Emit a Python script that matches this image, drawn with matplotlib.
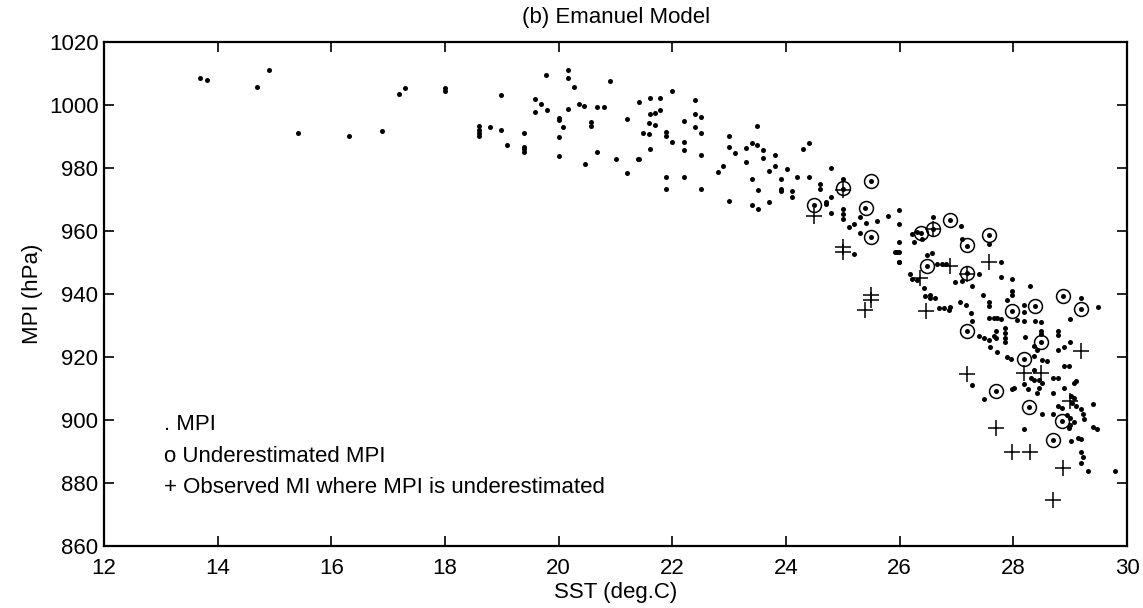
import matplotlib
matplotlib.use("Agg")
import matplotlib.pyplot as plt
import numpy as np

plt.rcParams['font.family'] = ['Liberation Sans', 'DejaVu Sans']

# MPI points (SST deg.C, MPI hPa)
sst_mpi = [
    13.69, 13.81, 14.70, 14.91, 15.42, 16.31, 16.90, 17.19, 17.30, 18.00, 18.00,
    18.60, 18.60, 18.60, 18.60, 18.80, 18.99, 18.99, 19.09, 19.39, 19.39, 19.39, 19.39,
    19.59, 19.59, 19.69, 19.78, 19.79, 20.00, 20.00, 20.00, 20.00, 20.08, 20.17, 20.17,
    20.17, 20.27, 20.36, 20.44, 20.47, 20.57, 20.57, 20.67, 20.67,
    20.80, 20.90, 21.20, 21.00, 21.20, 21.39,
    21.41, 21.60, 21.79, 22.00, 22.39, 22.39, 22.50, 21.60, 21.69, 21.79, 21.59, 21.69,
    21.49, 21.59, 21.89, 21.89, 22.00, 22.21, 22.21, 22.21, 22.39, 22.50, 22.50, 21.60,
    21.41, 21.89, 21.89, 22.21, 22.50, 23.00, 23.00, 23.11, 22.80, 22.90, 23.00, 23.49,
    23.40, 23.49, 23.59, 23.30, 23.30, 23.59, 23.80, 23.80, 23.70, 23.40, 23.50, 23.40,
    23.50, 23.70, 24.01, 23.91, 23.91, 23.91, 24.11, 24.11, 24.20, 24.41, 24.30, 24.41,
    24.79, 24.60, 24.60, 24.80, 24.70, 24.70, 24.80, 24.50, 25.00, 25.00, 25.00, 25.00,
    25.00, 25.20, 25.10, 25.30, 25.39, 25.41, 25.60, 25.79, 25.99, 25.99, 25.49, 25.30,
    25.50, 25.20, 25.99, 25.91, 25.99, 25.99, 25.95, 25.98,
    26.22, 26.31, 26.39, 26.25, 26.38, 26.59, 26.58, 26.88, 27.08, 27.19, 27.10, 27.58,
    27.58, 27.78, 27.78, 27.98, 28.29, 27.98, 28.88, 29.19, 26.48, 26.57, 26.48, 26.66,
    26.75, 26.81, 27.19, 27.39, 27.28, 26.98, 27.10, 26.18, 26.22, 26.30, 26.42, 26.54,
    26.45, 26.54, 26.63, 27.47,
    26.69, 26.78, 26.86, 26.89, 27.07, 27.16, 27.25, 27.28, 27.57, 27.57, 27.57, 27.66,
    27.72, 27.78, 27.89, 27.98, 27.98, 28.07, 28.19, 28.19, 28.19, 28.38, 28.39, 28.48,
    29.19, 29.49, 29.00, 27.18, 27.39, 27.48, 27.57, 27.66, 27.69, 27.69, 27.86, 27.86,
    27.86, 27.86, 27.59, 27.71, 27.89, 27.96, 28.20, 28.48, 28.36, 28.42, 28.48, 28.48,
    28.78, 28.78, 28.78, 28.89, 29.00, 28.19, 28.36, 28.51, 28.60, 28.36, 28.31, 28.36,
    28.45, 28.51, 28.45, 28.19, 28.25, 28.42, 28.01, 28.69, 28.78, 28.69, 28.89, 28.98,
    28.89, 29.07, 29.10, 29.01, 29.07, 29.04, 29.10, 27.28, 27.69, 27.48, 27.98, 28.28,
    28.50, 28.69, 28.79, 28.86, 28.85, 28.95, 29.00, 29.00, 29.07, 28.98, 29.19, 29.22,
    29.25, 29.41, 29.41, 29.48, 28.19, 28.69, 29.01, 29.13, 29.19, 29.19, 29.22, 29.19,
    29.31, 29.79,
]
mpi_mpi = [
    1008.7, 1007.9, 1005.6, 1011.2, 991.2, 990.1, 991.8, 1003.4, 1005.3, 1005.5, 1004.5,
    993.3, 992.2, 991.2, 990.1, 992.9, 1003.2, 992.2, 987.2, 991.2, 986.7, 986.0, 985.1,
    1001.8, 997.7, 1000.3, 1009.4, 998.4, 996.0, 995.2, 989.9, 983.8, 992.9, 1011.2, 1008.5,
    998.7, 1005.6, 1000.2, 999.8, 981.1, 994.7, 993.4, 999.3, 985.1,
    999.4, 1007.7, 995.7, 982.9, 978.3, 982.9,
    1000.8, 1002.1, 1002.3, 1004.4, 1001.5, 997.1, 996.2, 997.0, 997.3, 998.5, 994.4, 993.5,
    991.2, 990.7, 991.4, 990.1, 988.3, 994.8, 988.1, 985.8, 993.1, 991.2, 984.2, 986.0,
    982.7, 977.2, 973.3, 977.2, 973.3, 990.0, 986.8, 984.9, 978.8, 980.5, 969.6, 993.3,
    988.0, 987.3, 985.7, 986.4, 982.0, 983.3, 984.0, 980.7, 979.1, 976.5, 973.0, 968.1,
    967.0, 969.1, 979.6, 976.5, 973.3, 972.8, 972.8, 970.7, 977.0, 977.0, 985.9, 988.0,
    979.9, 974.9, 973.3, 970.7, 969.3, 968.6, 965.7, 968.1, 976.5, 973.3, 967.0, 965.4,
    963.8, 962.2, 961.2, 964.3, 967.3, 962.5, 963.1, 964.9, 966.5, 962.3, 976.0, 959.4,
    958.1, 952.8, 956.5, 953.3, 953.3, 950.2, 953.4, 950.2,
    958.9, 959.7, 957.4, 956.6, 959.5, 960.6, 964.4, 963.6, 961.6, 955.3, 957.4, 958.7,
    956.0, 950.3, 945.3, 944.7, 942.6, 940.8, 939.4, 938.7, 948.9, 952.9, 952.3, 949.4,
    949.4, 949.4, 946.5, 946.2, 942.5, 943.8, 944.1, 946.2, 944.7, 944.5, 941.8, 939.7,
    939.2, 938.6, 938.6, 939.7,
    935.7, 935.5, 934.9, 936.0, 937.6, 936.5, 933.9, 931.5, 937.6, 936.3, 932.3, 932.3,
    932.3, 932.1, 938.1, 939.7, 934.6, 931.8, 931.5, 936.5, 934.4, 936.2, 931.3, 931.1,
    935.2, 936.0, 932.1, 928.1, 926.5, 926.0, 925.5, 926.5, 928.1, 926.0, 929.2, 927.6,
    926.0, 924.9, 923.1, 921.6, 919.9, 919.5, 926.2, 924.9, 923.4, 922.3, 928.3, 927.3,
    928.1, 927.1, 922.3, 923.1, 924.9, 919.3, 920.2, 919.0, 918.6, 916.0, 913.4, 912.8,
    912.8, 911.8, 910.2, 911.3, 909.7, 908.6, 910.0, 913.4, 913.4, 908.6, 917.1, 917.1,
    910.2, 911.8, 912.3, 907.6, 907.1, 905.5, 904.4, 911.1, 909.3, 906.5, 909.7, 904.0,
    902.0, 902.0, 904.4, 903.9, 899.8, 901.5, 900.5, 898.4, 899.5, 897.5, 903.4, 901.8,
    900.2, 905.2, 897.7, 897.1, 897.1, 893.6, 893.4, 894.4, 893.9, 889.7, 888.1, 886.5,
    883.9, 883.7,
]

# underestimated MPI (circles)
sst_under = [24.50, 25.00, 25.40, 25.50, 25.50, 26.38, 26.59, 26.88, 27.19, 27.58, 26.48,
             27.19, 27.98, 28.38, 28.88, 29.19, 27.18, 28.48, 28.19, 27.69, 28.28, 28.85, 28.69]
mpi_under = [968.1, 973.5, 967.3, 976.0, 958.1, 959.5, 960.7, 963.6, 955.4, 958.8, 948.9,
             946.5, 934.6, 936.2, 939.3, 935.3, 928.1, 924.9, 919.3, 909.3, 904.0, 899.8, 893.6]

# observed MI where MPI is underestimated (plus)
sst_obs = [24.50, 25.00, 25.00, 25.00, 25.50, 25.50, 25.39, 26.59, 26.89, 27.58, 27.19, 26.36,
           26.47, 27.19, 28.18, 28.48, 29.19, 27.69, 27.98, 28.29, 28.88, 28.70, 29.00]
mpi_obs = [964.8, 973.0, 955.0, 953.3, 939.6, 938.1, 935.0, 960.6, 949.0, 950.0, 946.2, 945.0,
           934.6, 914.6, 914.9, 914.9, 921.8, 897.4, 889.7, 889.7, 884.6, 874.6, 906.0]

xticks = np.arange(12, 31, 2)
yticks = np.arange(860, 1021, 20)

fs = 16
fig = plt.figure(figsize=(11.43, 6.08), dpi=100)
ax = fig.add_axes([0.091, 0.102, 0.895, 0.829])

ax.plot(sst_mpi, mpi_mpi, ls='none', marker='o', ms=3.6, color='k', mew=0)
ax.plot(sst_under, mpi_under, ls='none', marker='o', ms=10, mfc='none', mec='k', mew=1.1)
ax.plot(sst_obs, mpi_obs, ls='none', marker='+', ms=11, color='k', mew=1.1)

ax.set_xlim(12, 30)
ax.set_ylim(860, 1020)
ax.set_xticks(xticks)
ax.set_yticks(yticks)
ax.tick_params(direction='in', length=7, width=1.2, top=True, right=True,
               labelsize=fs, colors='k')
ax.tick_params(axis='x', pad=9)
ax.tick_params(axis='y', pad=4)
for s in ax.spines.values():
    s.set_linewidth(1.6)

ax.set_xlabel("SST (deg.C)", fontsize=fs, labelpad=2)
ax.set_ylabel("MPI (hPa)", fontsize=fs, labelpad=4)
fig.text(0.539, 0.972, "(b) Emanuel Model", fontsize=fs, ha='center', va='center')

# legend written as plain text, MATLAB style
ax.text(13.05, 898.7, ". MPI", fontsize=fs, va='center')
ax.text(13.05, 888.5, "o Underestimated MPI", fontsize=fs, va='center')
ax.text(13.05, 878.5, "+ Observed MI where MPI is underestimated", fontsize=fs, va='center')

fig.savefig("out.png", dpi=100)
